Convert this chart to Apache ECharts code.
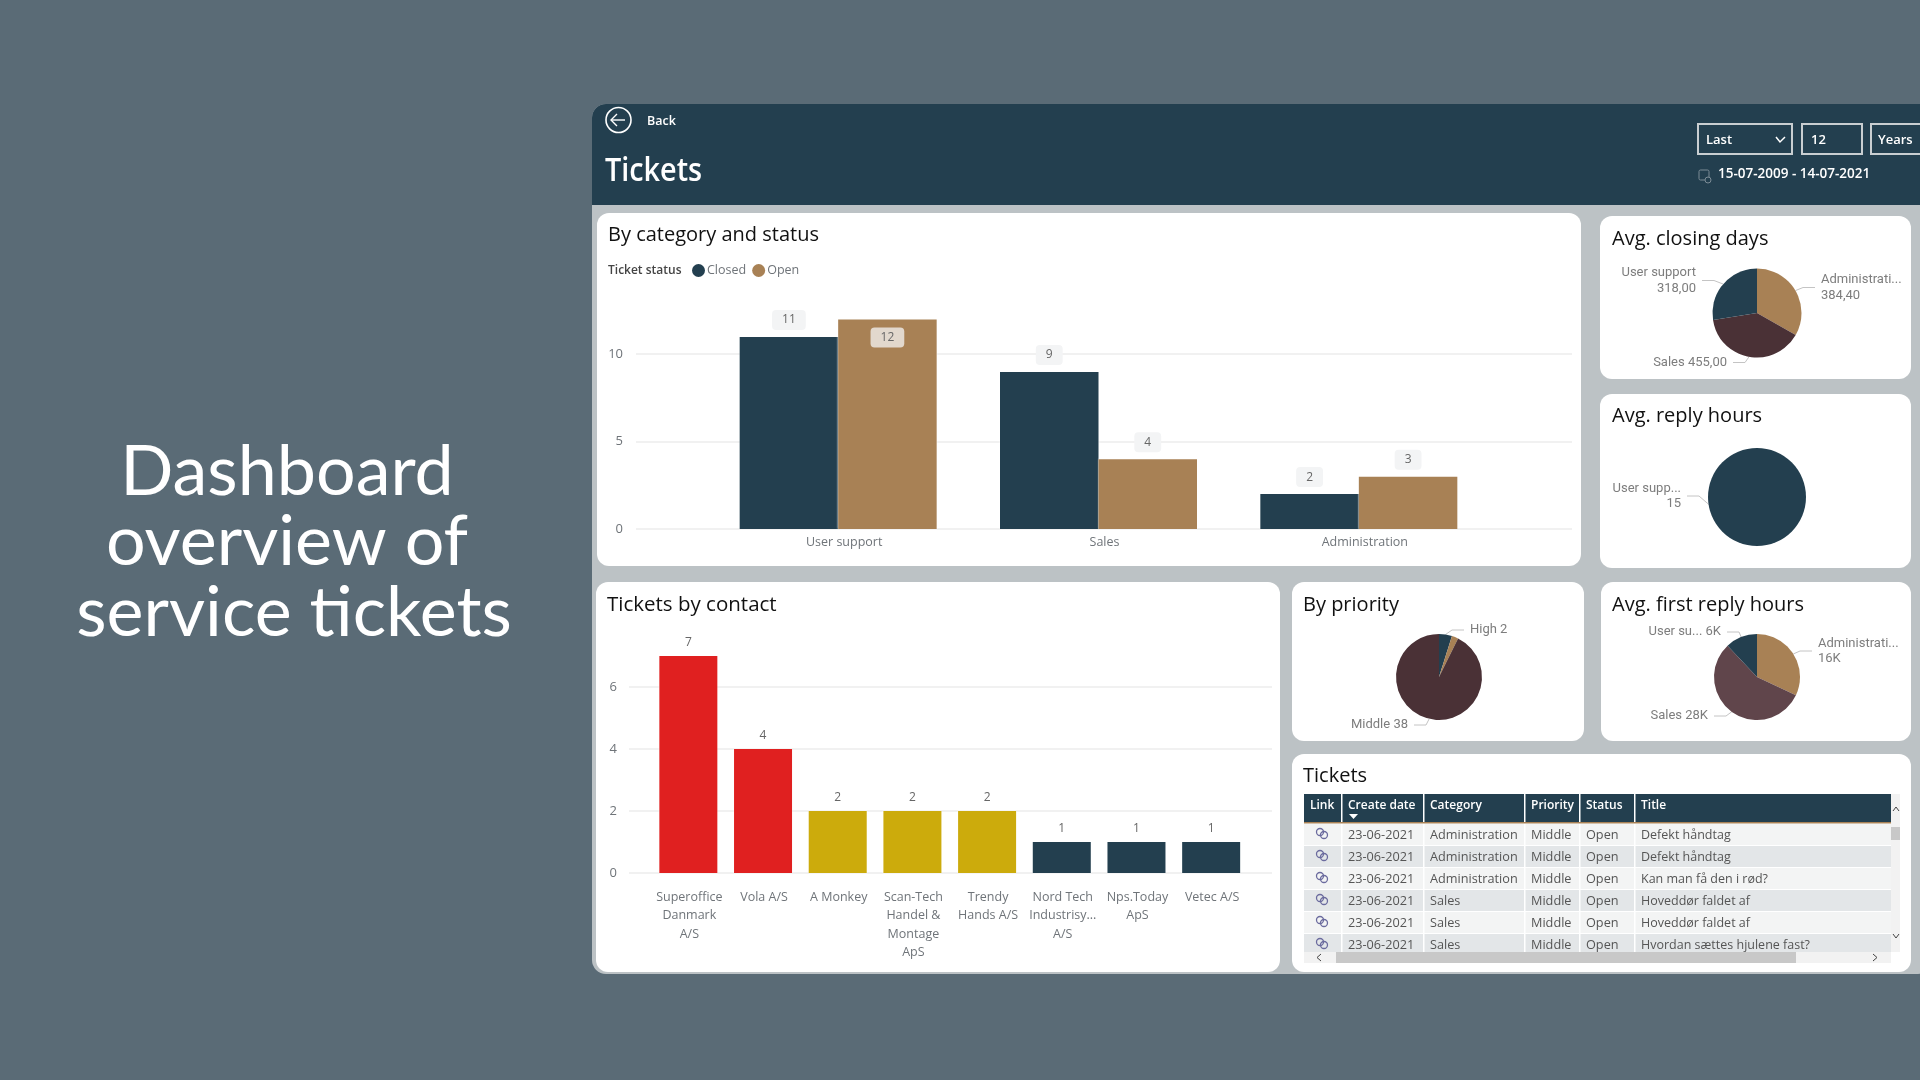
<!DOCTYPE html>
<html lang="en">
<head>
    <meta charset="UTF-8">
    <title>Tickets</title>
    <style>
        html, body { margin: 0; padding: 0; background: #5a6b76; }
        #main { width: 1920px; height: 1080px; }
    </style>
    <script src="https://cdn.jsdelivr.net/npm/echarts@6/dist/echarts.min.js"></script>
</head>
<body>
<div id="main"></div>
<script>
    // data
    const headline = ['Dashboard', 'overview of', 'service tickets'];

    const statusNames = ['Closed', 'Open'];
    const statusCategories = ['User support', 'Sales', 'Administration'];
    const closedValues = [11, 9, 2];
    const openValues = [12, 4, 3];

    const contactNames = ['Superoffice\nDanmark\nA/S', 'Vola A/S', 'A Monkey', 'Scan-Tech\nHandel &\nMontage\nApS',
        'Trendy\nHands A/S', 'Nord Tech\nIndustrisy...\nA/S', 'Nps.Today\nApS', 'Vetec A/S'];
    const contactValues = [7, 4, 2, 2, 2, 1, 1, 1];

    const closingNames = ['Administrati...', 'Sales', 'User support'];
    const closingValues = [384.4, 455, 318];
    const replyNames = ['User supp...'];
    const replyValues = [15];
    const priorityNames = ['High', 'Low', 'Middle'];
    const priorityValues = [2, 1, 38];
    const firstReplyNames = ['Administrati...', 'Sales', 'User su...'];
    const firstReplyValues = [16000, 28000, 6000];

    const tableHeaders = ['Link', 'Create date', 'Category', 'Priority', 'Status', 'Title'];
    const tableDates = ['23-06-2021', '23-06-2021', '23-06-2021', '23-06-2021', '23-06-2021', '23-06-2021'];
    const tableCategories = ['Administration', 'Administration', 'Administration', 'Sales', 'Sales', 'Sales'];
    const tablePriorities = ['Middle', 'Middle', 'Middle', 'Middle', 'Middle', 'Middle'];
    const tableStatuses = ['Open', 'Open', 'Open', 'Open', 'Open', 'Open'];
    const tableTitles = ['Defekt håndtag', 'Defekt håndtag', 'Kan man få den i rød?', 'Hoveddør faldet af',
        'Hoveddør faldet af', 'Hvordan sættes hjulene fast?'];

    const NAVY = '#233f4f', TAN = '#a88155', WINE = '#4a3136', PLUM = '#60454b';
    const RED = '#e02020', YELLOW = '#ccab0c';
    const FONT = '"Open Sans"', PIEFONT = 'Roboto';

    let g = [];

    function box(x, y, w, h, fill, r, stroke) {
        g.push({
            type: 'rect', shape: {x: x, y: y, width: w, height: h, r: r || 0},
            style: {fill: fill, stroke: stroke || null, lineWidth: stroke ? 2 : 0}
        });
    }

    function txt(x, y, text, size, color, font, weight, align, scaleX) {
        g.push({
            type: 'text', x: x, y: y, scaleX: scaleX || 1,
            style: {
                text: text, fill: color, fontSize: size, fontFamily: font || FONT,
                fontWeight: weight || 'normal', align: align || 'left', verticalAlign: 'middle'
            }
        });
    }

    function linkIcon(x, y) {
        g.push({type: 'circle', shape: {cx: x - 2, cy: y - 2, r: 3.5}, style: {fill: null, stroke: '#6b6b9e', lineWidth: 1.3}});
        g.push({type: 'circle', shape: {cx: x + 2, cy: y + 1, r: 3.5}, style: {fill: null, stroke: '#6b6b9e', lineWidth: 1.3}});
    }

    // slide text
    txt(287, 472, headline[0], 70, '#fff', 'Lato', 'normal', 'center');
    txt(287, 542, headline[1], 70, '#fff', 'Lato', 'normal', 'center');
    txt(294, 613, headline[2], 70, '#fff', 'Lato', 'normal', 'center');

    // report frame
    box(592, 104, 1340, 870, '#bcc2c5', 14);
    box(592, 104, 1340, 101, NAVY, [14, 0, 0, 0]);

    g.push({type: 'circle', shape: {cx: 618.5, cy: 120, r: 12.5}, style: {fill: null, stroke: '#fff', lineWidth: 1.6}});
    g.push({type: 'polyline', shape: {points: [[625, 120], [611, 120]]}, style: {stroke: '#fff', lineWidth: 1.4}});
    g.push({type: 'polyline', shape: {points: [[617, 114], [611, 120], [617, 126]]}, style: {fill: null, stroke: '#fff', lineWidth: 1.4}});
    txt(647, 121, 'Back', 12.5, '#fff', FONT, 600);
    txt(605, 172, 'Tickets', 32, '#fff', FONT, 600, 'left', 0.9);

    box(1698, 124, 94, 30, NAVY, 0, '#c9ced1');
    box(1802, 124, 60, 30, NAVY, 0, '#c9ced1');
    box(1871, 124, 60, 30, NAVY, 0, '#c9ced1');
    txt(1706, 140, 'Last', 13, '#fff', FONT, 600);
    g.push({type: 'polyline', shape: {points: [[1776, 137], [1780, 142], [1785, 137]]}, style: {fill: null, stroke: '#fff', lineWidth: 1.5}});
    txt(1811, 140, '12', 13, '#fff', FONT, 600);
    txt(1878, 140, 'Years', 13, '#fff', FONT, 600);
    g.push({type: 'rect', shape: {x: 1699, y: 170, width: 10, height: 10, r: 1.5}, style: {fill: null, stroke: '#7c8c96', lineWidth: 1}});
    g.push({type: 'circle', shape: {cx: 1708, cy: 180, r: 3}, style: {fill: NAVY, stroke: '#7c8c96', lineWidth: 1}});
    txt(1718, 174, '15-07-2009 - 14-07-2021', 13.5, '#fff', FONT, 600);

    // cards
    box(597, 213, 984, 353, '#fff', 12);
    box(1600, 216, 311, 163, '#fff', 12);
    box(1600, 394, 311, 174, '#fff', 12);
    box(596, 582, 684, 390, '#fff', 12);
    box(1292, 582, 292, 159, '#fff', 12);
    box(1601, 582, 310, 159, '#fff', 12);
    box(1292, 754, 619, 218, '#fff', 12);

    txt(608, 235, 'By category and status', 20, '#111');
    txt(608, 271, 'Ticket status', 12, '#444', FONT, 600);
    txt(1612, 239, 'Avg. closing days', 20, '#111');
    txt(1612, 416, 'Avg. reply hours', 20, '#111');
    txt(607, 605, 'Tickets by contact', 20.5, '#111');
    txt(1303, 605, 'By priority', 20, '#111');
    txt(1612, 605, 'Avg. first reply hours', 20, '#111');
    txt(1303, 776, 'Tickets', 20, '#111');

    // table
    const colX = [1304, 1342, 1424, 1525, 1580, 1635, 1891];
    const rowTop = 824, rowStep = 22, tableBottom = 952;
    box(1304, 794, 587, 28, NAVY);
    box(1304, 822, 587, 1.5, TAN);
    for (let c = 1; c < 6; c++) box(colX[c] - 1, 794, 1.5, 28, '#fff');
    tableHeaders.forEach((h, c) => txt(colX[c] + 6, 806, h, 12, '#fff', FONT, 600));
    g.push({type: 'polygon', shape: {points: [[1349, 814], [1358, 814], [1353.5, 819]]}, style: {fill: '#fff'}});

    tableDates.forEach((d, i) => {
        let top = rowTop + rowStep * i;
        let h = Math.min(rowStep - 1, tableBottom - top);
        box(1304, top, 587, h, i % 2 ? '#e3e6e8' : '#f3f4f4');
        for (let c = 1; c < 6; c++) box(colX[c] - 1, top, 1.5, h, '#fff');
        linkIcon(1322, top + 10);
        let mid = top + 11.5;
        txt(colX[1] + 6, mid, d, 12.7, '#555');
        txt(colX[2] + 6, mid, tableCategories[i], 12.7, '#555');
        txt(colX[3] + 6, mid, tablePriorities[i], 12.7, '#555');
        txt(colX[4] + 6, mid, tableStatuses[i], 12.7, '#555');
        txt(colX[5] + 6, mid, tableTitles[i], 12.5, '#555');
    });

    // scrollbars
    box(1304, 952, 587, 11, '#f2f2f2');
    box(1336, 952, 460, 11, '#c8c8c8');
    box(1891, 794, 9, 158, '#f2f2f2');
    box(1891, 827, 9, 13, '#c8c8c8');
    g.push({type: 'polyline', shape: {points: [[1321, 954], [1317, 957.5], [1321, 961]]}, style: {fill: null, stroke: '#444', lineWidth: 1}});
    g.push({type: 'polyline', shape: {points: [[1873, 954], [1877, 957.5], [1873, 961]]}, style: {fill: null, stroke: '#444', lineWidth: 1}});
    g.push({type: 'polyline', shape: {points: [[1893, 811], [1896, 807], [1899, 811]]}, style: {fill: null, stroke: '#444', lineWidth: 1}});
    g.push({type: 'polyline', shape: {points: [[1893, 934], [1896, 938], [1899, 934]]}, style: {fill: null, stroke: '#444', lineWidth: 1}});

    function contactColor(v) {
        if (v >= 4) return RED;
        if (v >= 2) return YELLOW;
        return NAVY;
    }

    const LBL = '#6f7479', GRIDC = '#ececec';
    // white halo keeps the grid lines off the bars
    const HALO = {shadowColor: '#fff', shadowBlur: 2};

    function pieSeries(cx, cy, r, names, values, colors, texts, places) {
        return {
            type: 'pie', center: [cx, cy], radius: r, startAngle: 90, clockwise: true,
            animation: false, silent: true, avoidLabelOverlap: false,
            data: names.map((n, i) => ({
                name: n, value: values[i],
                itemStyle: {color: colors[i]},
                label: {show: !!texts[i]},
                labelLine: {show: !!texts[i]}
            })),
            label: {
                formatter: p => texts[p.dataIndex] || '',
                color: '#7d7d7d', fontSize: 13, fontFamily: PIEFONT, lineHeight: 15.5, letterSpacing: 0.5,
                padding: [0, 6, 0, 6]
            },
            labelLine: {lineStyle: {color: '#c4c4c4', width: 1}, length: 8, length2: 12},
            labelLayout: p => places[p.dataIndex] || {}
        };
    }

    let option = {
        animation: false,
        graphic: {elements: g},
        legend: {
            data: statusNames, left: 687, top: 259, icon: 'circle', itemWidth: 13, itemHeight: 13, itemGap: 6,
            selectedMode: false, textStyle: {color: '#6f7479', fontSize: 12.5, fontFamily: FONT, padding: [0, 0, 0, -3]}
        },
        grid: [
            // grid lines run wider than the bars, so they sit in their own grids
            {left: 636, width: 936, top: 354, height: 175},
            {left: 708, width: 781, top: 319.6, height: 209.4},
            {left: 629, width: 643, top: 687, height: 186},
            {left: 651, width: 597.5, top: 656, height: 217}
        ],
        xAxis: [
            {type: 'value', gridIndex: 0, show: false, min: 0, max: 1},
            {
                type: 'category', gridIndex: 1, data: statusCategories,
                axisLine: {show: false}, axisTick: {show: false},
                axisLabel: {color: LBL, fontSize: 12.5, fontFamily: FONT, margin: 7, padding: [0, 0, 0, 12]}
            },
            {type: 'value', gridIndex: 2, show: false, min: 0, max: 1},
            {
                type: 'category', gridIndex: 3, data: contactNames,
                axisLine: {show: false}, axisTick: {show: false},
                axisLabel: {
                    color: LBL, fontSize: 12.5, fontFamily: FONT, margin: 15, lineHeight: 18.5, interval: 0,
                    padding: [0, 0, 0, 2]
                }
            }
        ],
        yAxis: [
            {
                type: 'value', gridIndex: 0, min: 0, max: 10, interval: 5,
                axisLine: {show: false}, axisTick: {show: false},
                axisLabel: {color: LBL, fontSize: 13, fontFamily: FONT, margin: 13},
                splitLine: {lineStyle: {color: GRIDC, width: 1.5}}
            },
            {type: 'value', gridIndex: 1, min: 0, max: 12, show: false, splitLine: {show: false}},
            {
                type: 'value', gridIndex: 2, min: 0, max: 6, interval: 2,
                axisLine: {show: false}, axisTick: {show: false},
                axisLabel: {color: LBL, fontSize: 13, fontFamily: FONT, margin: 12},
                splitLine: {lineStyle: {color: GRIDC, width: 1.5}}
            },
            {type: 'value', gridIndex: 3, min: 0, max: 7, show: false, splitLine: {show: false}}
        ],
        series: [
            {
                name: statusNames[0], type: 'bar', xAxisIndex: 1, yAxisIndex: 1, barWidth: 98.5, barGap: 0,
                itemStyle: Object.assign({color: NAVY}, HALO),
                label: {
                    show: true, position: 'top', distance: 7, color: '#666', fontSize: 12, fontFamily: FONT,
                    backgroundColor: '#f3f4f5', borderRadius: 4, padding: [4, 10]
                },
                data: closedValues
            },
            {
                name: statusNames[1], type: 'bar', xAxisIndex: 1, yAxisIndex: 1, barWidth: 98.5,
                itemStyle: Object.assign({color: TAN}, HALO),
                label: {
                    show: true, position: 'top', distance: 7, color: '#666', fontSize: 12, fontFamily: FONT,
                    backgroundColor: '#f3f4f5', borderRadius: 4, padding: [4, 10]
                },
                data: openValues.map((v, i) => i === 0
                    ? {value: v, label: {position: 'insideTop', distance: 8, backgroundColor: '#e2d8cd'}}
                    : v)
            },
            {
                type: 'bar', xAxisIndex: 3, yAxisIndex: 3, barWidth: 58,
                itemStyle: Object.assign({color: p => contactColor(p.value)}, HALO),
                label: {show: true, position: 'top', distance: 7, color: '#666', fontSize: 12, fontFamily: FONT},
                data: contactValues
            },
            pieSeries(1757, 313, 44.5, closingNames, closingValues, [TAN, WINE, NAVY],
                ['Administrati...\n384,40', 'Sales 455,00', 'User support\n318,00'],
                [{x: 1815, y: 287.5, align: 'left', verticalAlign: 'middle'},
                    {x: 1733, y: 362.5, align: 'right', verticalAlign: 'middle'},
                    {x: 1702, y: 280.5, align: 'right', verticalAlign: 'middle'}]),
            pieSeries(1757, 497, 49, replyNames, replyValues, [NAVY],
                ['User supp...\n15'],
                [{x: 1687, y: 496, align: 'right', verticalAlign: 'middle'}]),
            pieSeries(1439, 677, 43, priorityNames, priorityValues, [NAVY, TAN, WINE],
                ['High 2', '', 'Middle 38'],
                [{x: 1464, y: 630, align: 'left', verticalAlign: 'middle'},
                    {},
                    {x: 1414, y: 725, align: 'right', verticalAlign: 'middle'}]),
            pieSeries(1757, 677, 43, firstReplyNames, firstReplyValues, [TAN, PLUM, NAVY],
                ['Administrati...\n16K', 'Sales 28K', 'User su... 6K'],
                [{x: 1812, y: 651, align: 'left', verticalAlign: 'middle'},
                    {x: 1714, y: 716, align: 'right', verticalAlign: 'middle'},
                    {x: 1727, y: 632, align: 'right', verticalAlign: 'middle'}])
        ]
    };

    let myChart = echarts.init(document.getElementById('main'));
    myChart.setOption(option);
</script>
</body>
</html>
